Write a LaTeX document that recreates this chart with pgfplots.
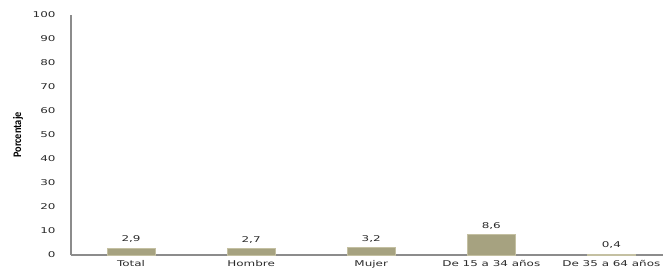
\documentclass[border=0pt]{standalone}
\usepackage{pgfplots}
\pgfplotsset{compat=1.18}
\usepackage{fontspec}
\setmainfont{DejaVu Sans}[FakeStretch=1.5]
\newfontfamily\calib{Carlito}[FakeStretch=0.9]
\definecolor{barc}{HTML}{A6A280}
\definecolor{bare}{HTML}{C4C0A2}
\definecolor{axc}{HTML}{8C8C8C}
\definecolor{txt}{HTML}{2A2A2A}
\begin{document}
\begin{tikzpicture}
\begin{axis}[
  at={(0,0)}, anchor=south west,
  scale only axis, width=592bp, height=240bp,
  xmin=-0.5, xmax=4.43, ymin=0, ymax=100,
  ytick={0,10,...,100},
  xtick={0,1,2,3,4},
  xticklabels={Total,Hombre,Mujer,De 15 a 34 años,De 35 a 64 años},
  axis x line*=bottom, axis y line*=left,
  x axis line style={draw=axc, line width=2pt, -},
  y axis line style={draw=axc, line width=2.6pt, -},
  major tick length=0pt,
  tick style={draw=none},
  /pgf/number format/assume math mode=true,
  ticklabel style={font=\fontsize{8}{9}\selectfont, text=txt},
  yticklabel style={xshift=-12bp},
  xticklabel style={yshift=-2bp},
  ylabel={\calib\bfseries Porcentaje},
  every axis y label/.style={at={(axis description cs:0,0.5)}, xshift=-53bp, rotate=90, anchor=center, font=\fontsize{11.5}{12}\selectfont, text=black},
  ybar, bar width=48bp,
  nodes near coords,
  nodes near coords style={font=\fontsize{8}{9}\selectfont, text=txt, yshift=1.5bp,
    /pgf/number format/.cd, fixed, fixed zerofill, precision=1, use comma, assume math mode=true},
  clip=false,
]
\addplot[fill=barc, draw=bare, line width=0.6pt] coordinates {(0,2.9) (1,2.7) (2,3.2) (3,8.6) (4,0.4)};
\end{axis}
\pgfresetboundingbox
\useasboundingbox (-71bp,-20bp) rectangle (592bp,255bp);
\end{tikzpicture}
\end{document}
